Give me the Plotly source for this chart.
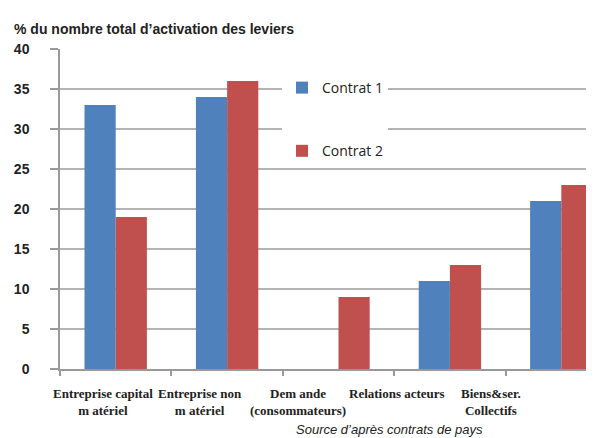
import plotly.graph_objects as go

categories = ["Entreprise capital<br>m atériel", "Entreprise non<br>m atériel",
              "Dem ande<br>(consommateurs)", "Relations acteurs", "Biens&ser.<br>Collectifs"]
contrat1 = [33, 34, 0, 11, 21]
contrat2 = [19, 36, 9, 13, 23]
y_ticks = [0, 5, 10, 15, 20, 25, 30, 35, 40]
title_text = "% du nombre total d\u2019activation des leviers"
source_text = "Source d\u2019après contrats de pays"

# label horizontal placement (px) to mimic the original's shifted labels
label_x_px = [95, 192, 290, 389, 483]

W, H = 594, 438
ML, MR, MT, MB = 52, 0, 41, 77
plot_w = W - ML - MR
plot_h = H - MT - MB

fig = go.Figure()
fig.add_trace(go.Bar(x=list(range(len(categories))), y=contrat1, name="Contrat 1",
                     marker=dict(color="#4F81BD", line=dict(width=0)), legendgroup="a"))
fig.add_trace(go.Bar(x=list(range(len(categories))), y=contrat2, name="Contrat 2",
                     marker=dict(color="#C0504D", line=dict(width=0)), legendgroup="b"))

annotations = [
    dict(text=title_text, xref="paper", yref="paper", x=(4 - ML) / plot_w, y=1 + (41 - 21) / plot_h,
         xanchor="left", yanchor="middle", showarrow=False,
         font=dict(family="Liberation Sans Narrow, Liberation Sans, Arial", size=14, color="#222",
                   weight="bold")),
    dict(text="<i>" + source_text + "</i>", xref="paper", yref="paper",
         x=(381 - ML) / plot_w, y=-(421 - (H - MB)) / plot_h,
         xanchor="center", yanchor="middle", showarrow=False,
         font=dict(family="Liberation Sans, Arial", size=13, color="#222")),
]
for lab, px in zip(categories, label_x_px):
    annotations.append(dict(text=lab, xref="paper", yref="paper",
                            x=(px - ML) / plot_w, y=-(376 - (H - MB)) / plot_h,
                            xanchor="center", yanchor="top", showarrow=False, align="center",
                            font=dict(family="Liberation Serif, Times New Roman", size=13,
                                      color="#222", weight="bold")))

fig.update_layout(
    width=W, height=H,
    margin=dict(l=ML, r=MR, t=MT, b=MB, pad=0),
    paper_bgcolor="white", plot_bgcolor="white",
    barmode="group", bargap=0.44, bargroupgap=0,
    showlegend=True,
    legend=dict(x=(274 - ML) / plot_w, y=1 - (64 - MT) / plot_h, xanchor="left", yanchor="top",
                bgcolor="white", tracegroupgap=42, itemwidth=30,
                font=dict(family="Open Sans, Liberation Sans", size=14, color="#222")),
    annotations=annotations,
    xaxis=dict(range=[-0.5, 4.5 - 15 / 111.4], tickvals=[i - 0.5 for i in range(5)] + [4.5],
               showticklabels=False, ticks="outside", ticklen=5, tickcolor="#999", tickwidth=1.5,
               showline=True, linecolor="#999", linewidth=1.5, showgrid=False, zeroline=False,
               fixedrange=True),
    yaxis=dict(range=[0, 40], tickvals=y_ticks, ticks="outside", ticklen=8, tickcolor="#999",
               tickwidth=1.5, showline=True, linecolor="#999", linewidth=1.5,
               showgrid=True, gridcolor="#b4b4b4", gridwidth=1.5, zeroline=False,
               ticklabelstandoff=18,
               tickfont=dict(family="Liberation Sans, Arial", size=14, color="#222", weight="bold"),
               fixedrange=True),
)
fig.write_html("out.html")
